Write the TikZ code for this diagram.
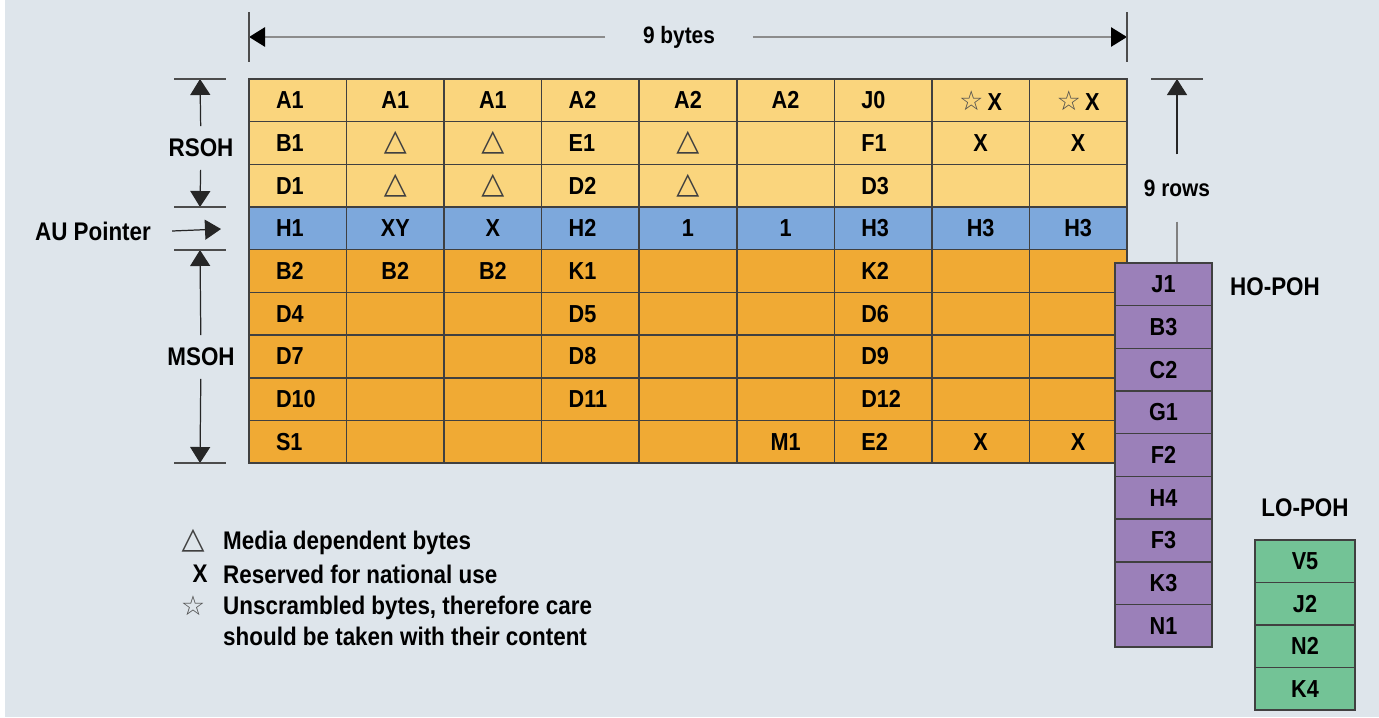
\documentclass[tikz,border=0pt]{standalone}
\usepackage{fontspec}
\setmainfont{Liberation Sans}[FakeStretch=0.88]
\newfontfamily\symfont{DejaVu Sans}
\usetikzlibrary{arrows.meta}

\definecolor{bgcol}{RGB}{222,229,235}
\definecolor{rsoh}{RGB}{250,213,125}
\definecolor{ptr}{RGB}{125,168,220}
\definecolor{msoh}{RGB}{240,170,52}
\definecolor{hopoh}{RGB}{155,128,185}
\definecolor{lopoh}{RGB}{115,195,150}

% symbols of the legend
\newcommand{\mdb}{{\symfont\bfseries\fontsize{17}{17}\selectfont\color{black!75}△}}
\newcommand{\usb}{{\symfont\mdseries\fontsize{15.5}{15.5}\selectfont\color{black!70}☆}}

\begin{document}
\begin{tikzpicture}[x=0.02cm,y=-0.02cm,
  cell/.style={draw=black!75,line width=0.9pt,minimum width=1.951cm,minimum height=0.853cm,inner sep=0pt,font=\bfseries\fontsize{14}{16}\selectfont},
  ccell/.style={cell,text width=1.951cm,align=center},
  lcell/.style={cell,text width=0.871cm,inner xsep=0.54cm,align=left},
  col1/.style=lcell,col2/.style=ccell,col3/.style=ccell,
  col4/.style=lcell,col5/.style=ccell,col6/.style=ccell,
  col7/.style=lcell,col8/.style=ccell,col9/.style=ccell,
  pcell/.style={cell,minimum width=1.94cm},
  tag/.style={font=\bfseries\fontsize{14.5}{17.6}\selectfont},
  dim/.style={draw=black!85,line width=0.7pt,-{Triangle[length=0.32cm,width=0.4cm]}},
  bydim/.style={draw=gray!90,line width=1.6pt,-{Triangle[length=0.32cm,width=0.38cm,color=black]}},
  tick/.style={draw=black!70,line width=1pt}]
\useasboundingbox (0,0) rectangle (1379,717);
\fill[bgcol] (0,0) rectangle (1379,717);
\fill[white] (0,0) rectangle (5,717);

% frame of the STM-1 section overhead
\foreach \r/\f/\row in {
  1/rsoh/{A1,A1,A1,A2,A2,A2,J0,\usb\,X,\usb\,X},
  2/rsoh/{B1,\mdb,\mdb,E1,\mdb,{},F1,X,X},
  3/rsoh/{D1,\mdb,\mdb,D2,\mdb,{},D3,{},{}},
  4/ptr/{H1,XY,X,H2,1,1,H3,H3,H3},
  5/msoh/{B2,B2,B2,K1,{},{},K2,{},{}},
  6/msoh/{D4,{},{},D5,{},{},D6,{},{}},
  7/msoh/{D7,{},{},D8,{},{},D9,{},{}},
  8/msoh/{D10,{},{},D11,{},{},D12,{},{}},
  9/msoh/{S1,{},{},{},{},M1,E2,X,X}}
  \foreach \t [count=\c] in \row
    \node[col\c,fill=\f] (c-\r-\c) at ({249+(\c-0.5)*97.55},{79+(\r-0.5)*42.67}) {\t};

% path overhead
\foreach \t [count=\i] in {J1,B3,C2,G1,F2,H4,F3,K3,N1}
  \node[pcell,fill=hopoh] (ho-\i) at (1163.5,{263+(\i-0.5)*42.67}) {\t};
\foreach \t [count=\i] in {V5,J2,N2,K4}
  \node[pcell,minimum width=2cm,fill=lopoh] (lo-\i) at (1305,{540+(\i-0.5)*42.5}) {\t};
\node[tag] (hotag) at (1275,287) {HO-POH};
\node[tag] (lotag) at (1305,508) {LO-POH};

% 9 bytes
\coordinate (by-l) at (249,37);
\coordinate (by-r) at (1127,37);
\node[tag,font=\bfseries\fontsize{13.5}{16}\selectfont,inner xsep=0.75cm] (bytes) at (679,37) {9 bytes};
\draw[bydim] (bytes) -- (by-l);
\draw[bydim] (bytes) -- (by-r);
\draw[tick] (by-l) ++(0,-25) -- ++(0,50);
\draw[tick] (by-r) ++(0,-25) -- ++(0,50);

% 9 rows
\coordinate (rw-t) at (1177,79);
\node[tag,font=\bfseries\fontsize{13.5}{16}\selectfont,inner ysep=0.5cm] (rows) at (1177,188) {9 rows};
\draw[dim] (rows) -- (rw-t);
\draw[draw=gray,line width=0.7pt] (rows) -- (rw-t |- ho-1.north);
\draw[tick] (rw-t) ++(-26,0) -- ++(52,0);

% RSOH
\coordinate (rs-t) at (200,79);
\coordinate (rs-b) at (200,207);
\node[tag,inner ysep=0.25cm] (rsoh) at (201,148) {RSOH};
\draw[dim] (rsoh) -- (rs-t);
\draw[dim] (rsoh) -- (rs-b);
\draw[tick] (rs-t) ++(-26,0) -- ++(52,0);
\draw[tick] (rs-b) ++(-26,0) -- ++(52,0);

% AU pointer
\node[tag] (au) at (93,231) {AU Pointer};
\coordinate (au-e) at (221,229);
\draw[dim] ([xshift=0.3cm]au.east) -- (au-e);

% MSOH
\coordinate (ms-t) at (200,250);
\coordinate (ms-b) at (200,463);
\node[tag,inner ysep=0.25cm] (msoh) at (201,357) {MSOH};
\draw[dim] (msoh) -- (ms-t);
\draw[dim] (msoh) -- (ms-b);
\draw[tick] (ms-t) ++(-26,0) -- ++(52,0);
\draw[tick] (ms-b) ++(-26,0) -- ++(52,0);

% legend
\node (lg-md) at (193,541) {\mdb};
\node[tag,anchor=west] (lg-md-t) at (217,543) {Media dependent bytes};
\node[tag] (lg-x) at (200,574) {X};
\node[tag,anchor=west] (lg-x-t) at (217,574) {Reserved for national use};
\node (lg-us) at (193,606) {\usb};
\node[tag,anchor=west,align=left] (lg-us-t) at (217,621) {Unscrambled bytes, therefore care\\should be taken with their content};
\end{tikzpicture}
\end{document}
